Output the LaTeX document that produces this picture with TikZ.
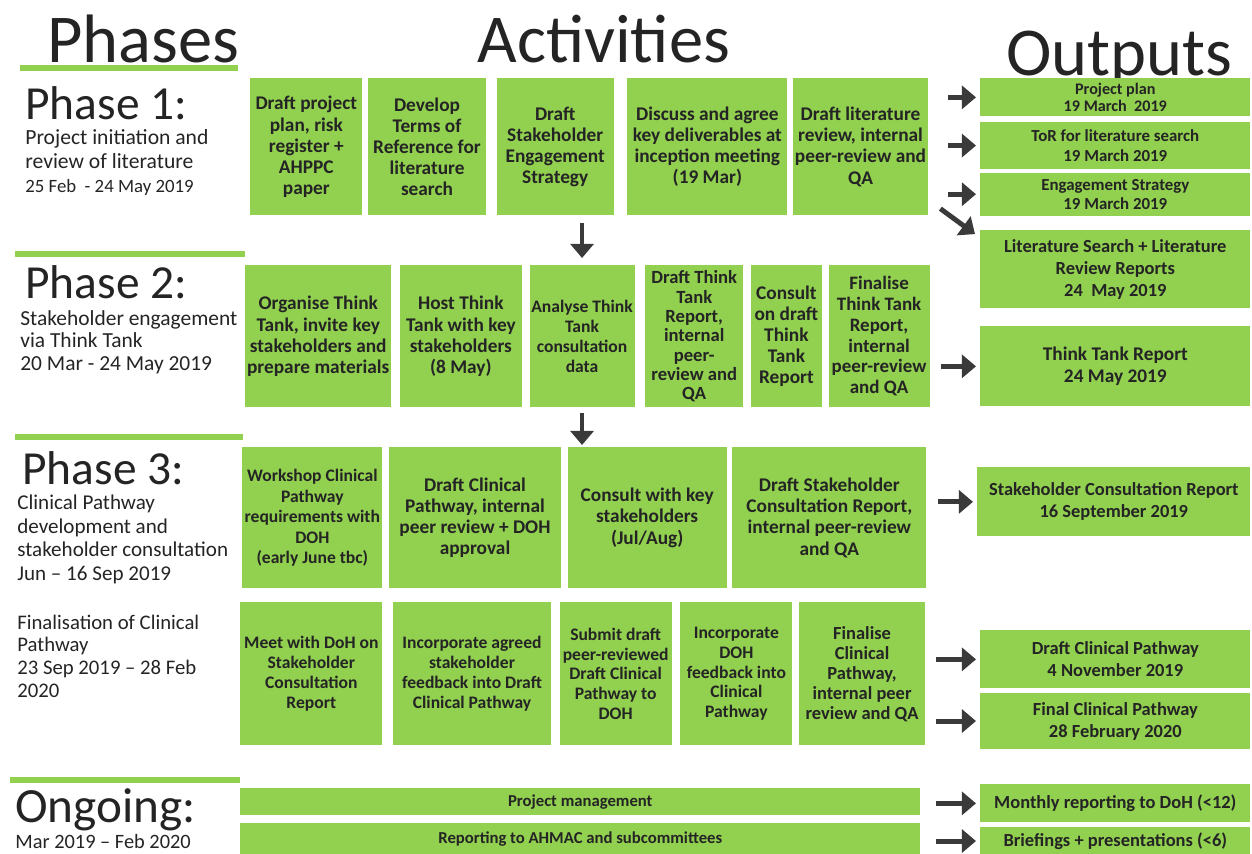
\documentclass[tikz,border=0pt]{standalone}
\usepackage{fontspec}
\setmainfont{Carlito}
\usetikzlibrary{arrows.meta,positioning}
\definecolor{leaf}{RGB}{146,208,80}
\definecolor{ink}{RGB}{36,36,36}
\definecolor{pilgray}{RGB}{58,58,58}
\tikzset{
    % green activity boxes
    task/.style={
           rectangle,
           fill=leaf,
           text=ink,
           inner sep=1pt,
           align=center,
           anchor=north west,
           font=\bfseries\fontsize{11}{12}\selectfont},
    % output boxes on the right
    result/.style={
           task,
           minimum width=5.4cm,
           font=\bfseries\fontsize{10.5}{12.5}\selectfont},
    % column titles and phase headings
    title/.style={anchor=base west, inner sep=0pt, text=ink, font=\fontsize{39}{41}\selectfont},
    head/.style={anchor=base west, inner sep=0pt, text=ink, font=\fontsize{27}{30}\selectfont},
    % notes sit on the baseline of their last line
    note/.style={anchor=base west, inner sep=0pt, text=ink, align=left, font=\fontsize{12.3}{13.6}\selectfont},
    % arrow style
    pil/.style={
           -{Triangle[length=8pt,width=13pt]},
           line width=2.8pt,
           draw=pilgray,
           shorten <=0.22cm,
           shorten >=0.08cm},
    rule/.style={draw=leaf, line width=3pt}
}

\begin{document}
\begin{tikzpicture}[x=0.02cm, y=-0.02cm]
 \useasboundingbox (0,0) rectangle (1252,853);

 % column titles
 \node[title] (phases) at (47,62) {Phases};
 \node[title] (activities) at (477,62) {Activities};
 \node[title] (outputs) at (1006,75) {Outputs};
 \draw[rule] (20,68) -- (238,68);

 % phase names on the left
 \node[head] (ph1) at (25,119) {Phase 1:};
 \node[note] (ph1note) at (25,192) {Project initiation and\\review of literature\\{\fontsize{10.7}{12}\selectfont 25 Feb \ - 24 May 2019}};
 \draw[rule] (15,254) -- (245,254);
 \node[head] (ph2) at (25,298) {Phase 2:};
 \node[note, font=\fontsize{12.2}{12.8}\selectfont] (ph2note) at (20,370) {Stakeholder engagement\\via Think Tank\\20 Mar - 24 May 2019};
 \draw[rule] (15,437) -- (243,437);
 \node[head] (ph3) at (22,484) {Phase 3:};
 \node[note, font=\fontsize{12}{13.3}\selectfont] (ph3note) at (17,580) {Clinical Pathway\\development and\\stakeholder consultation\\Jun -- 16 Sep 2019};
 \node[note, font=\fontsize{11.8}{12.9}\selectfont] (finnote) at (17,697) {Finalisation of Clinical\\Pathway\\23 Sep 2019 -- 28 Feb\\2020};
 \draw[rule] (10,780) -- (240,780);
 \node[head, font=\fontsize{28}{30}\selectfont] (ongo) at (15,822) {Ongoing:};
 \node[note, font=\fontsize{11.6}{13}\selectfont] (ongonote) at (15,848) {Mar 2019 -- Feb 2020};

 % phase 1 activities
 \node[task, minimum width=2.24cm, minimum height=2.74cm] (a1) at (250,78) {Draft project\\plan, risk\\register +\\AHPPC\\paper};
 \node[task, minimum width=2.36cm, minimum height=2.74cm, right=0.1cm of a1] (a2) {Develop\\Terms of\\Reference for\\literature\\search};
 \node[task, minimum width=2.34cm, minimum height=2.74cm, right=0.2cm of a2] (a3) {Draft\\Stakeholder\\Engagement\\Strategy};
 \node[task, minimum width=3.2cm, minimum height=2.74cm, right=0.26cm of a3] (a4) {Discuss and agree\\key deliverables at\\inception meeting\\(19 Mar)};
 \node[task, minimum width=2.7cm, minimum height=2.74cm, right=0.1cm of a4] (a5) {Draft literature\\review, internal\\peer-review and\\QA};

 % phase 2 activities
 \node[task, minimum width=2.9cm, minimum height=2.84cm] (b1) at (245,265) {Organise Think\\Tank, invite key\\stakeholders and\\prepare materials};
 \node[task, minimum width=2.44cm, minimum height=2.84cm, right=0.16cm of b1] (b2) {Host Think\\Tank with key\\stakeholders\\(8 May)};
 \node[task, minimum width=2.1cm, minimum height=2.84cm, right=0.14cm of b2, font=\bfseries\fontsize{10}{11.5}\selectfont] (b3) {Analyse Think\\Tank\\consultation\\data};
 \node[task, minimum width=1.96cm, minimum height=2.84cm, right=0.2cm of b3, font=\bfseries\fontsize{10.6}{11}\selectfont] (b4) {Draft Think\\Tank\\Report,\\internal\\peer-\\review and\\QA};
 \node[task, minimum width=1.42cm, minimum height=2.84cm, right=0.14cm of b4] (b5) {Consult\\on draft\\Think\\Tank\\Report};
 \node[task, minimum width=2.02cm, minimum height=2.84cm, right=0.12cm of b5, font=\bfseries\fontsize{10.8}{11.8}\selectfont] (b6) {Finalise\\Think Tank\\Report,\\internal\\peer-review\\and QA};

 % phase 3 activities
 \node[task, minimum width=2.8cm, minimum height=2.82cm, font=\bfseries\fontsize{10}{11.6}\selectfont] (c1) at (242,447) {Workshop Clinical\\Pathway\\requirements with\\DOH\\(early June tbc)};
 \node[task, minimum width=3.44cm, minimum height=2.82cm, right=0.12cm of c1] (c2) {Draft Clinical\\Pathway, internal\\peer review + DOH\\approval};
 \node[task, minimum width=3.18cm, minimum height=2.82cm, right=0.12cm of c2] (c3) {Consult with key\\stakeholders\\(Jul/Aug)};
 \node[task, minimum width=3.88cm, minimum height=2.82cm, right=0.1cm of c3] (c4) {Draft Stakeholder\\Consultation Report,\\internal peer-review\\and QA};

 % finalisation activities
 \node[task, minimum width=2.84cm, minimum height=2.86cm, font=\bfseries\fontsize{10}{11.4}\selectfont] (d1) at (240,602) {Meet with DoH on\\Stakeholder\\Consultation\\Report};
 \node[task, minimum width=3.16cm, minimum height=2.86cm, right=0.2cm of d1, font=\bfseries\fontsize{10}{11.4}\selectfont] (d2) {Incorporate agreed\\stakeholder\\feedback into Draft\\Clinical Pathway};
 \node[task, minimum width=2.24cm, minimum height=2.86cm, right=0.16cm of d2, font=\bfseries\fontsize{10}{11.2}\selectfont] (d3) {Submit draft\\peer-reviewed\\Draft Clinical\\Pathway to\\DOH};
 \node[task, minimum width=2.24cm, minimum height=2.86cm, right=0.16cm of d3, font=\bfseries\fontsize{10}{11.2}\selectfont] (d4) {Incorporate\\DOH\\feedback into\\Clinical\\Pathway};
 \node[task, minimum width=2.52cm, minimum height=2.86cm, right=0.12cm of d4, font=\bfseries\fontsize{10.5}{11.4}\selectfont] (d5) {Finalise\\Clinical\\Pathway,\\internal peer\\review and QA};

 % ongoing bars
 \node[task, minimum width=13.6cm, minimum height=0.54cm, font=\bfseries\fontsize{9.5}{11}\selectfont] (bar1) at (240,788) {Project management};
 \node[task, minimum width=13.6cm, minimum height=0.64cm, below=0.14cm of bar1.south west, anchor=north west, font=\bfseries\fontsize{9.5}{11}\selectfont] (bar2) {Reporting to AHMAC and subcommittees};

 % outputs
 \node[result, minimum height=0.76cm, font=\bfseries\fontsize{9.2}{10}\selectfont] (o1) at (980,78) {Project plan\\19 March \ 2019};
 \node[result, minimum height=0.94cm, below=0.1cm of o1, anchor=north, font=\bfseries\fontsize{9.6}{11.5}\selectfont] (o2) {ToR for literature search\\19 March 2019};
 \node[result, minimum height=0.86cm, below=0.06cm of o2, anchor=north, font=\bfseries\fontsize{9.6}{11}\selectfont] (o3) {Engagement Strategy\\19 March 2019};
 \node[result, minimum height=1.56cm, below=0.28cm of o3, anchor=north] (o4) {Literature Search + Literature\\Review Reports\\24 \ May 2019};
 \node[result, minimum height=1.6cm, font=\bfseries\fontsize{11}{12.5}\selectfont] (o5) at (980,326) {Think Tank Report\\24 May 2019};
 \node[result, minimum width=5.46cm, minimum height=1.38cm] (o6) at (977,467) {Stakeholder Consultation Report\\16 September 2019};
 \node[result, minimum height=1.16cm] (o7) at (980,630) {Draft Clinical Pathway\\4 November 2019};
 \node[result, minimum height=1.12cm, below=0.08cm of o7, anchor=north] (o8) {Final Clinical Pathway\\28 February 2020};
 \node[result, minimum height=0.76cm] (o9) at (980,784) {Monthly reporting to DoH (<12)};
 \node[result, minimum height=0.56cm, below=0.08cm of o9, anchor=north] (o10) {Briefings + presentations (<6)};

 % arrows between activities and outputs
 \draw[pil, shorten <=0.4cm] (a5.east |- o1.west) -- (o1.west);
 \draw[pil, shorten <=0.4cm] (a5.east |- o2.west) -- (o2.west);
 \draw[pil, shorten <=0.4cm] (a5.east |- o3.west) -- (o3.west);
 \draw[pil, shorten <=0pt, shorten >=0pt] ([xshift=0.24cm,yshift=0.14cm]a5.south east) -- ([xshift=-0.1cm,yshift=-0.08cm]o4.north west);
 \draw[pil, shorten <=0.14cm, shorten >=0.14cm, line width=2pt] (b3.north |- a3.south) -- (b3.north);
 \draw[pil, shorten <=0.1cm, shorten >=0.04cm, line width=2pt] (b3.south) -- (b3.south |- c3.north);
 \draw[pil] (b6.east |- o5.west) -- (o5.west);
 \draw[pil] (c4.east |- o6.west) -- (o6.west);
 \draw[pil] (d5.east |- o7.west) -- (o7.west);
 \draw[pil] (d5.east |- o8.west) -- (o8.west);
 \draw[pil, shorten <=0.3cm] (bar1.east |- o9.west) -- (o9.west);
 \draw[pil, shorten <=0.3cm] (bar2.east |- o10.west) -- (o10.west);
\end{tikzpicture}
\end{document}
